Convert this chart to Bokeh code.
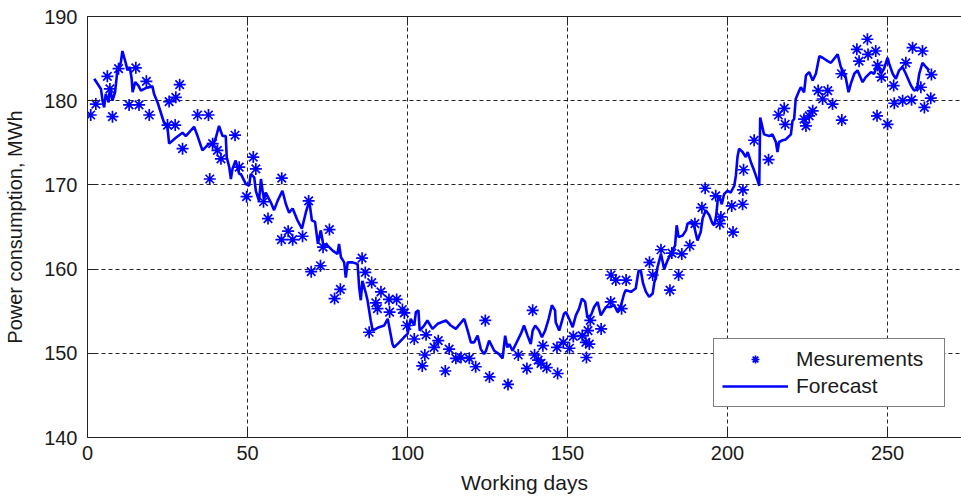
from bokeh.plotting import figure
from bokeh.models import (LinearAxis, FixedTicker, Legend, LegendItem, Range1d,
                          ColumnDataSource)
from bokeh.embed import file_html
from bokeh.resources import INLINE

# ---------------- data ----------------
x_ticks = [0, 50, 100, 150, 200, 250]
y_ticks = [140, 150, 160, 170, 180, 190]

meas_days = [1.0, 2.6, 6.2, 7.0, 7.8, 9.7, 13.0, 15.1, 16.1, 18.4, 19.3, 25.0,
             25.5, 27.4, 27.6, 28.8, 29.7, 34.4, 37.8, 38.2, 39.1, 40.6, 41.7,
             46.1, 47.4, 49.7, 51.8, 52.6, 55.0, 56.4, 60.6, 60.7, 62.7, 64.1,
             67.2, 69.1, 69.9, 72.8, 73.6, 75.6, 77.2, 79.0, 85.8, 86.8, 88.0,
             88.8, 90.1, 90.6, 91.7, 94.2, 94.4, 96.6, 98.4, 99.0, 99.8, 102.1,
             104.6, 105.4, 105.8, 108.3, 109.6, 111.8, 113.0, 115.1, 116.7,
             119.3, 121.3, 124.3, 125.6, 131.4, 134.6, 137.3, 139.1, 139.7,
             140.8, 141.7, 142.3, 143.5, 146.7, 146.9, 148.7, 150.6, 151.8,
             154.6, 155.7, 155.9, 156.4, 156.8, 157.1, 160.5, 163.5, 163.6,
             165.1, 166.9, 168.3, 175.6, 176.6, 179.2, 182.0, 182.6, 184.7,
             185.7, 188.2, 189.8, 192.0, 193.0, 196.3, 197.6, 197.9, 201.3,
             201.7, 204.7, 204.8, 205.0, 208.3, 212.8, 215.9, 217.7, 218.0,
             223.9, 224.5, 225.5, 226.6, 228.3, 229.7, 231.3, 232.8, 235.6,
             235.7, 240.4, 241.1, 243.7, 243.9, 246.3, 246.7, 246.9, 248.1,
             250.0, 251.9, 252.1, 254.7, 255.7, 257.5, 257.8, 260.4, 260.9,
             261.5, 263.5, 263.7]
meas_values = [178.3, 179.6, 182.9, 181.4, 178.1, 183.8, 179.5, 183.9, 179.5,
               182.3, 178.3, 177.1, 179.9, 177.1, 180.4, 181.9, 174.3, 178.3,
               178.3, 170.7, 174.9, 174.1, 173.1, 175.9, 172.1, 168.6, 173.3,
               171.9, 168.0, 166.0, 163.5, 170.8, 164.5, 163.5, 163.9, 168.1,
               159.7, 160.4, 162.6, 164.7, 156.5, 157.6, 161.3, 159.6, 152.5,
               158.4, 156.0, 155.3, 157.3, 156.4, 154.9, 156.4, 155.2, 154.8,
               153.3, 151.7, 148.5, 149.8, 152.2, 150.7, 151.5, 147.9, 150.5,
               149.4, 149.5, 149.4, 148.4, 153.9, 147.2, 146.3, 149.8, 148.2,
               155.1, 149.8, 149.2, 148.8, 150.9, 148.3, 150.7, 147.6, 151.3,
               150.6, 152.0, 152.1, 151.3, 149.5, 152.7, 151.1, 153.9, 152.9,
               156.1, 159.3, 158.7, 155.3, 158.7, 160.8, 159.3, 162.3, 157.5,
               161.9, 159.3, 161.8, 162.8, 165.4, 167.3, 169.6, 168.7, 165.4,
               166.2, 167.5, 164.4, 167.7, 169.4, 171.8, 175.3, 173.0, 178.3,
               179.1, 177.2, 177.8, 177.0, 178.2, 178.8, 181.2, 180.2, 181.2,
               179.6, 183.2, 177.7, 186.1, 184.7, 187.3, 185.5, 185.9, 178.2,
               184.2, 182.8, 177.2, 181.8, 179.7, 180.0, 184.5, 180.1, 186.3,
               181.6, 185.9, 179.2, 180.3, 183.1]

forecast_days = [2.1, 4.2, 4.7, 5.2, 5.7, 6.6, 7.0, 7.8, 8.6, 9.4, 10.4, 10.9,
                 12.0, 12.5, 13.2, 13.8, 14.1, 14.9, 15.9, 16.7, 18.2, 20.3,
                 20.8, 21.9, 22.9, 23.9, 25.0, 25.5, 27.6, 29.7, 30.7, 33.3,
                 34.4, 35.9, 38.0, 39.1, 40.1, 41.1, 42.2, 43.2, 43.5, 44.3,
                 44.8, 45.3, 46.3, 47.4, 47.9, 49.5, 50.5, 51.0, 52.1, 52.6,
                 53.6, 54.2, 54.7, 55.2, 55.7, 57.3, 58.3, 59.4, 60.9, 62.0,
                 63.0, 64.1, 65.6, 67.0, 68.2, 69.3, 70.1, 71.1, 72.0, 72.9,
                 73.8, 74.5, 76.6, 78.1, 78.6, 79.2, 80.2, 80.7, 81.3, 82.8,
                 84.4, 84.9, 85.4, 85.9, 87.0, 87.5, 88.5, 89.1, 91.1, 92.7,
                 93.8, 95.3, 95.8, 97.4, 98.9, 100.0, 101.0, 102.1, 102.6,
                 103.4, 103.8, 105.2, 106.2, 107.8, 109.4, 112.0, 113.5, 115.1,
                 117.7, 118.8, 119.8, 120.8, 121.9, 122.9, 123.9, 124.5, 125.5,
                 127.1, 128.6, 129.7, 130.5, 131.2, 131.8, 132.8, 135.4, 136.4,
                 137.5, 138.5, 139.1, 139.9, 141.1, 142.0, 143.0, 144.1, 145.1,
                 146.1, 146.3, 147.4, 148.9, 149.5, 150.5, 151.6, 152.6, 153.6,
                 154.5, 155.5, 156.2, 157.3, 158.3, 159.4, 160.4, 162.0, 163.5,
                 164.5, 165.6, 166.7, 167.7, 168.2, 169.8, 171.3, 172.2, 172.9,
                 173.6, 174.5, 175.5, 176.6, 177.1, 177.6, 178.1, 179.2, 180.2,
                 181.2, 182.3, 183.6, 184.1, 184.7, 186.0, 187.0, 187.5, 188.5,
                 189.6, 190.6, 191.6, 192.2, 193.2, 194.3, 195.3, 195.8, 196.4,
                 196.9, 197.4, 198.2, 198.9, 200.0, 201.0, 202.1, 202.6, 203.1,
                 203.6, 204.7, 205.7, 206.3, 207.3, 208.3, 209.4, 209.9, 210.2,
                 211.4, 213.0, 214.0, 215.1, 215.6, 216.1, 217.2, 218.2, 219.8,
                 220.3, 220.8, 221.3, 222.4, 222.9, 223.9, 224.5, 225.5, 226.6,
                 227.6, 228.7, 229.7, 231.3, 232.3, 234.4, 235.4, 236.8, 237.8,
                 238.5, 239.6, 240.6, 242.2, 243.2, 244.8, 245.8, 246.9, 247.9,
                 248.9, 250.0, 250.5, 251.6, 252.6, 253.6, 254.7, 255.7, 257.3,
                 258.3, 259.2, 259.9, 260.9, 262.0, 263.0]
forecast_values = [182.6, 181.4, 180.0, 179.2, 180.8, 179.8, 181.6, 180.0,
                   181.0, 183.8, 184.5, 185.9, 184.4, 183.6, 184.0, 182.6,
                   181.0, 182.2, 181.8, 181.2, 181.5, 181.7, 180.8, 179.8,
                   178.6, 177.4, 176.8, 174.9, 175.6, 176.2, 175.8, 176.9,
                   175.8, 174.1, 174.9, 174.7, 175.6, 177.0, 175.8, 175.8,
                   173.3, 172.1, 170.7, 171.9, 172.9, 171.3, 171.3, 170.1,
                   169.9, 171.3, 170.9, 169.3, 168.1, 170.7, 169.3, 168.3,
                   169.1, 167.9, 167.0, 168.1, 169.3, 167.7, 166.7, 167.2,
                   165.8, 164.8, 166.7, 168.1, 165.8, 165.6, 163.0, 164.6,
                   162.6, 163.0, 162.2, 161.8, 163.0, 161.4, 160.8, 159.0,
                   160.8, 160.8, 160.6, 157.8, 156.3, 158.6, 157.1, 156.3,
                   153.9, 152.7, 153.1, 153.3, 154.1, 151.1, 150.7, 151.3,
                   151.9, 152.3, 154.1, 153.3, 154.9, 155.1, 152.7, 153.3,
                   153.9, 152.9, 153.5, 153.9, 153.3, 152.9, 154.1, 152.7,
                   151.3, 151.3, 152.1, 150.5, 149.9, 150.3, 151.5, 150.3,
                   149.9, 149.4, 152.1, 150.7, 151.1, 150.3, 152.3, 153.3,
                   152.1, 151.1, 152.7, 153.3, 152.7, 151.9, 152.7, 154.1,
                   155.7, 155.1, 153.7, 152.7, 154.7, 154.9, 154.1, 153.1,
                   154.5, 155.3, 156.5, 156.1, 154.3, 154.5, 155.5, 156.1,
                   154.5, 155.5, 155.5, 155.8, 154.9, 155.7, 157.1, 157.5,
                   157.3, 157.7, 159.8, 159.8, 158.3, 157.3, 156.7, 157.1,
                   158.4, 159.0, 160.2, 161.8, 160.0, 161.0, 161.8, 162.8,
                   165.2, 163.8, 164.0, 164.6, 165.4, 165.6, 165.0, 163.4,
                   164.4, 166.0, 167.0, 166.4, 165.4, 165.2, 166.2, 168.1,
                   168.7, 167.7, 168.9, 169.3, 169.1, 169.9, 171.1, 173.3,
                   174.3, 173.9, 173.3, 173.9, 172.7, 171.7, 170.5, 169.9,
                   178.0, 176.0, 175.8, 176.0, 175.1, 173.9, 175.1, 175.3,
                   175.4, 176.0, 177.6, 177.8, 180.2, 181.2, 181.6, 181.0,
                   183.0, 183.4, 182.4, 183.2, 185.3, 185.1, 184.7, 184.5,
                   185.5, 184.0, 183.0, 181.0, 182.0, 183.2, 183.6, 182.2,
                   182.8, 183.4, 183.2, 184.4, 183.2, 183.8, 185.1, 184.4,
                   183.2, 182.6, 183.6, 184.0, 183.2, 181.8, 181.2, 181.4,
                   183.2, 184.5, 184.0, 183.6]

# ---------------- figure ----------------
FONT = "Liberation Sans"
TXT = "#1a1a1a"

p = figure(width=961, height=498, x_range=Range1d(0, 273.1),
           y_range=Range1d(140, 190), output_backend="svg",
           toolbar_location=None, min_border_left=87, min_border_right=0,
           min_border_top=16, min_border_bottom=61)
p.outline_line_color = None
p.background_fill_color = "white"
p.border_fill_color = "white"

for ax, ticks in ((p.xaxis, x_ticks), (p.yaxis, y_ticks)):
    ax.ticker = FixedTicker(ticks=ticks)
    ax.major_tick_in = 9
    ax.major_tick_out = 0
    ax.minor_tick_line_color = None
    ax.axis_line_color = "#222222"
    ax.major_tick_line_color = "#222222"
    ax.major_label_text_font = FONT
    ax.major_label_text_font_size = "20px"
    ax.major_label_text_color = TXT
    ax.axis_label_text_font = FONT
    ax.axis_label_text_font_style = "normal"
    ax.axis_label_text_color = TXT

p.xaxis.axis_label = "Working days"
p.yaxis.axis_label = "Power consumption, MWh"
p.xaxis.axis_label_text_font_size = "21px"
p.yaxis.axis_label_text_font_size = "20px"
p.xaxis.major_label_standoff = 8
p.xaxis.axis_label_standoff = 8
p.yaxis.major_label_standoff = 10
p.yaxis.axis_label_standoff = 15

# top border with inward ticks, no labels
top = LinearAxis(ticker=FixedTicker(ticks=x_ticks), major_label_text_color=None,
                 major_label_text_font_size="2px", major_label_standoff=0,
                 major_tick_in=9, major_tick_out=0,
                 minor_tick_line_color=None, axis_line_color="#222222",
                 major_tick_line_color="#222222")
p.add_layout(top, "above")

p.xgrid.ticker = FixedTicker(ticks=x_ticks)
p.ygrid.ticker = FixedTicker(ticks=y_ticks)
for g in (p.xgrid, p.ygrid):
    g.grid_line_color = "black"
    g.grid_line_dash = "4 3"
    g.grid_line_width = 1
    g.grid_line_alpha = 0.85

meas_src = ColumnDataSource(dict(x=meas_days, y=meas_values))
fc_src = ColumnDataSource(dict(x=forecast_days, y=forecast_values))

r_fc = p.line("x", "y", source=fc_src, line_color="#0000FF", line_width=2.6)
r_meas = p.scatter("x", "y", source=meas_src, marker="asterisk", size=12,
                   line_color="#0000FF", line_width=1.7)

legend = Legend(items=[LegendItem(label="Mesurements", renderers=[r_meas]),
                       LegendItem(label="Forecast", renderers=[r_fc])],
                location=(626, 30), glyph_width=66, glyph_height=20,
                label_height=20, label_standoff=8, padding=8, spacing=3,
                margin=0, label_width=140, border_line_color="black",
                border_line_width=1, background_fill_color="white",
                background_fill_alpha=1.0, label_text_font=FONT,
                label_text_font_size="21px", label_text_color=TXT)
p.add_layout(legend, "center")

open("out.html", "w").write(file_html(p, INLINE))
